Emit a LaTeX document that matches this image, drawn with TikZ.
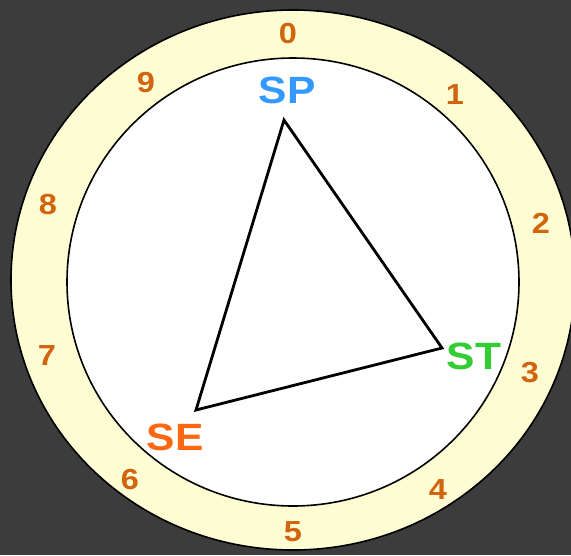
\documentclass[tikz,border=0pt]{standalone}
\usepackage{fontspec}
\setmainfont{Liberation Sans}
\definecolor{bg}{HTML}{3C3C3C}
\definecolor{cream}{HTML}{FEFCD2}
\definecolor{digit}{HTML}{D0640F}
\definecolor{spblue}{HTML}{3399FF}
\definecolor{stgreen}{HTML}{33CC33}
\definecolor{seorange}{HTML}{FF6611}
\newcommand{\wide}[1]{\scalebox{1.12}[1]{#1}}
\begin{document}
\begin{tikzpicture}[x=1pt,y=-1pt,
  digitlabel/.style={text=digit,font=\fontsize{29}{29}\selectfont\bfseries,inner sep=0pt},
  vertexlabel/.style={font=\fontsize{38}{38}\selectfont\bfseries,inner sep=0pt},
  ring/.style={draw=black,line width=1.6pt}]
\useasboundingbox (0,0) rectangle (571,555);
\fill[bg] (0,0) rectangle (571,555);
\draw[ring,fill=cream] (293,280) ellipse [x radius=282, y radius=270];
\draw[ring,fill=white] (293,282) ellipse [x radius=226, y radius=224];
% digits
\node[digitlabel] (d0) at (288,34) {\wide{0}};
\node[digitlabel] (d1) at (455,95) {\wide{1}};
\node[digitlabel] (d2) at (541,223) {\wide{2}};
\node[digitlabel] (d3) at (530,373) {\wide{3}};
\node[digitlabel] (d4) at (438,490) {\wide{4}};
\node[digitlabel] (d5) at (293,532) {\wide{5}};
\node[digitlabel] (d6) at (130,480) {\wide{6}};
\node[digitlabel] (d7) at (47,356) {\wide{7}};
\node[digitlabel] (d8) at (48,205) {\wide{8}};
\node[digitlabel] (d9) at (146,83) {\wide{9}};
% vertex labels
\node[vertexlabel,text=spblue] (lsp) at (287,90) {\wide{SP}};
\node[vertexlabel,text=stgreen] (lst) at (474,356) {\wide{ST}};
\node[vertexlabel,text=seorange] (lse) at (175,437) {\wide{SE}};
% triangle
\coordinate (sp) at (284,120);
\coordinate (st) at (442,348);
\coordinate (se) at (196,410);
\draw[line width=2.8pt,line join=miter] (sp) -- (st) -- (se) -- cycle;
\end{tikzpicture}
\end{document}
